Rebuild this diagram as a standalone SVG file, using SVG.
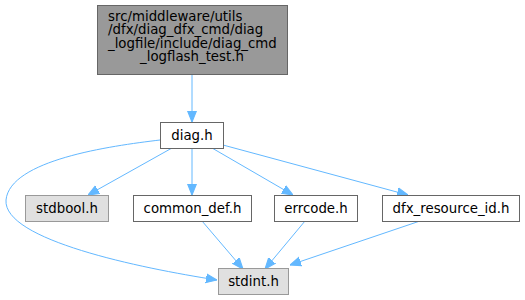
<svg xmlns="http://www.w3.org/2000/svg" width="525" height="300" viewBox="0 0 525 300">
<defs>
<marker id="ah" viewBox="0 0 10 10" refX="10" refY="5" markerWidth="11" markerHeight="11" markerUnits="userSpaceOnUse" orient="auto">
<path d="M0,1 L10,5 L0,9 Z" fill="#63b8ff" stroke="#63b8ff"/>
</marker>
<style>
text{font-family:"DejaVu Sans",sans-serif;font-size:13.33px;fill:#000}
.c{text-anchor:middle}
.e{fill:none;stroke:#63b8ff;stroke-width:1;marker-end:url(#ah)}
.w{fill:#fff;stroke:#666666}
.g{fill:#e0e0e0;stroke:#999999}
.t{fill:#999999;stroke:#666666}
</style>
</defs>
<rect width="525" height="300" fill="#fff"/>
<g id="edges">
<path class="e" d="M192,74 L192,122"/>
<path class="e" d="M160,140 C110,146 10,160 6,200 C3,240 140,268 217,280"/>
<path class="e" d="M172,148 L88,195"/>
<path class="e" d="M192,148 L192,195"/>
<path class="e" d="M212,148 L293,195"/>
<path class="e" d="M223,145 L408,195"/>
<path class="e" d="M202,221 L243,269"/>
<path class="e" d="M305,221 L265,269"/>
<path class="e" d="M420,221 L290,265"/>
</g>
<g id="n_top">
<rect class="t" x="97.5" y="5.5" width="190" height="69"/>
<text x="108" y="21">src/middleware/utils</text>
<text x="108" y="34.3">/dfx/diag_dfx_cmd/diag</text>
<text x="108" y="47.6">_logfile/include/diag_cmd</text>
<text class="c" x="192" y="60.9">_logflash_test.h</text>
</g>
<g id="n_diag">
<rect class="w" x="160.5" y="122.5" width="63" height="26"/>
<text class="c" x="192" y="140">diag.h</text>
</g>
<g id="n_stdbool">
<rect class="g" x="25.5" y="195.5" width="83" height="26"/>
<text class="c" x="67" y="213">stdbool.h</text>
</g>
<g id="n_common_def">
<rect class="w" x="133.5" y="195.5" width="118" height="26"/>
<text class="c" x="192.5" y="213">common_def.h</text>
</g>
<g id="n_errcode">
<rect class="w" x="274.5" y="195.5" width="83" height="26"/>
<text class="c" x="316" y="213">errcode.h</text>
</g>
<g id="n_dfx">
<rect class="w" x="382.5" y="195.5" width="137" height="26"/>
<text class="c" x="451" y="213">dfx_resource_id.h</text>
</g>
<g id="n_stdint">
<rect class="g" x="218.5" y="268.5" width="70" height="26"/>
<text class="c" x="253.5" y="286">stdint.h</text>
</g>
</svg>
